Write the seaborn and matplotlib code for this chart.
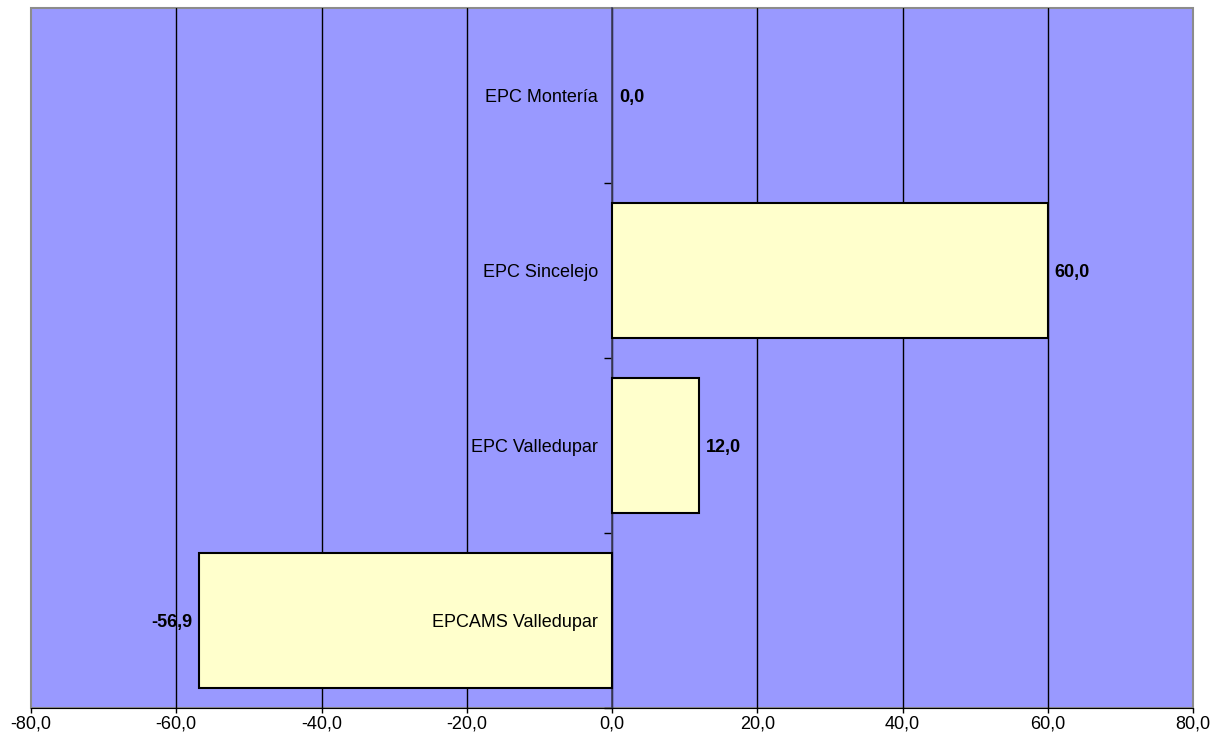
import matplotlib
matplotlib.use("Agg")
import matplotlib.pyplot as plt
import seaborn as sns
import pandas as pd
from matplotlib.patches import Rectangle
from matplotlib.ticker import FuncFormatter

categories = ["EPC Montería", "EPC Sincelejo", "EPC Valledupar", "EPCAMS Valledupar"]
values = [0.0, 60.0, 12.0, -56.9]
xticks = [-80, -60, -40, -20, 0, 20, 40, 60, 80]

sns.set_style("white")
plt.rcParams["font.family"] = ["Liberation Sans", "DejaVu Sans"]
plt.rcParams["text.color"] = "black"
plt.rcParams["xtick.color"] = "black"
plt.rcParams["ytick.color"] = "black"
plt.rcParams["xtick.labelcolor"] = "black"

df = pd.DataFrame({"cat": categories, "val": values})

fig = plt.figure(figsize=(12.25, 7.48), dpi=100)
ax = fig.add_axes([31/1225, 1-708/748, (1193-31)/1225, 700/748])
ax.set_facecolor("#9999FF")

sns.barplot(data=df, x="val", y="cat", orient="h", color="#FFFFCC",
            edgecolor="black", linewidth=1.5, width=0.77, saturation=1, ax=ax, zorder=3)
for p, v in zip(ax.patches, values):
    if v == 0:
        p.set_edgecolor("none")

ax.set_xlim(-80, 80)
ax.set_ylim(3.5, -0.5)
ax.set_xticks(xticks)
ax.xaxis.set_major_formatter(FuncFormatter(lambda v, p: f"{v:.1f}".replace(".", ",")))
ax.tick_params(axis="x", bottom=True, labelsize=13, length=3.5, width=1, color="black",
               labelcolor="black", direction="out", pad=2)
for x in xticks[1:-1]:
    ax.axvline(x, color="#000000", lw=1, zorder=1)

# y axis at 0
for s in ["top", "right"]:
    ax.spines[s].set_visible(False)
ax.spines["left"].set_position(("data", 0))
ax.spines["left"].set_color("#404060")
ax.spines["left"].set_linewidth(1.2)
ax.spines["left"].set_zorder(2)
ax.spines["bottom"].set_color("black")
ax.set_yticks([0.5, 1.5, 2.5, 3.5])
ax.set_yticklabels([])
ax.tick_params(axis="y", left=True, length=6, width=1, color="black", direction="out")
ax.set_xlabel("")
ax.set_ylabel("")

ax.add_patch(Rectangle((0, 0), 1, 1, transform=ax.transAxes, fill=False,
                       edgecolor="#8c8c8c", lw=1.5, clip_on=False, zorder=0))

for i, (c, v) in enumerate(zip(categories, values)):
    ax.annotate(c, (0, i), xytext=(-14, -2), textcoords="offset pixels",
                ha="right", va="center", fontsize=13, color="black", zorder=5)
    lab = f"{v:.1f}".replace(".", ",")
    if v >= 0:
        ax.annotate(lab, (v, i), xytext=(7, -2), textcoords="offset pixels",
                    ha="left", va="center", fontsize=13, fontweight="bold",
                    color="black", zorder=5)
    else:
        ax.annotate(lab, (v, i), xytext=(-6, -2), textcoords="offset pixels",
                    ha="right", va="center", fontsize=13, fontweight="bold",
                    color="black", zorder=5)

fig.savefig("out.png", dpi=100)
